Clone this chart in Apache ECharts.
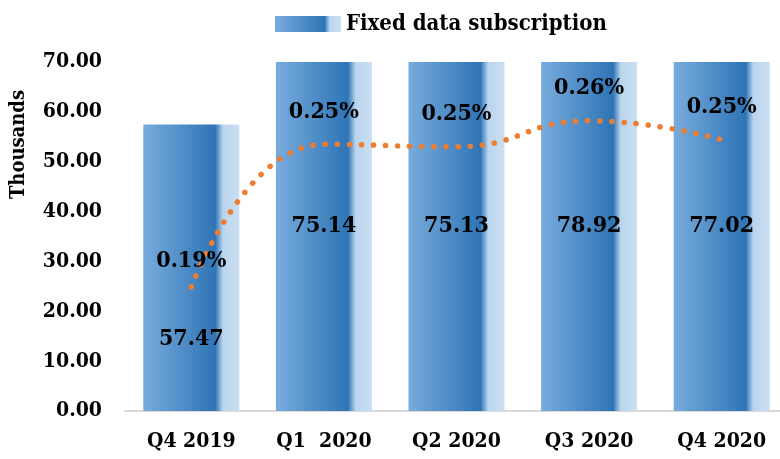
<!DOCTYPE html>
<html>
<head>
<meta charset="utf-8">
<script src="https://cdn.jsdelivr.net/npm/echarts@6/dist/echarts.min.js"></script>
<style>
  html, body { margin: 0; padding: 0; background: #fff; overflow: hidden; }
  #main { width: 788px; height: 459px; }
</style>
</head>
<body>
<div id="main"></div>
<script>
// data
var quarters = ['Q4 2019', 'Q1  2020', 'Q2 2020', 'Q3 2020', 'Q4 2020'];
var subscriptions = [57.47, 75.14, 75.13, 78.92, 77.02];   // thousands
var shares = [0.1898, 0.247, 0.246, 0.2564, 0.2488];         // percent
var yTicks = [0, 10, 20, 30, 40, 50, 60, 70];

var font = "'DejaVu Serif Condensed', 'DejaVu Serif', serif";

var barColor = new echarts.graphic.LinearGradient(0, 0, 1, 0, [
    { offset: 0, color: '#78acdd' },
    { offset: 0.75, color: '#2e74b5' },
    { offset: 0.83, color: '#bad5ee' },
    { offset: 1, color: '#cbdff2' }
]);

var option = {
    animation: false,
    textStyle: { fontFamily: font },
    legend: {
        top: 8,
        left: 270,
        icon: 'rect',
        itemWidth: 66,
        itemHeight: 16,
        itemGap: 8,
        data: ['Fixed data subscription'],
        textStyle: { fontSize: 22, fontWeight: 'bold', color: '#000', fontFamily: font }
    },
    grid: {
        left: 125,
        right: 0,
        top: 62,
        bottom: 48
    },
    xAxis: {
        type: 'category',
        data: quarters,
        axisTick: { show: false },
        axisLine: { lineStyle: { color: '#d9d9d9', width: 2 } },
        axisLabel: {
            margin: 20,
            fontSize: 21,
            fontWeight: 'bold',
            color: '#000',
            fontFamily: font
        }
    },
    yAxis: [
        {
            type: 'value',
            min: yTicks[0],
            max: yTicks[yTicks.length - 1],
            interval: 10,
            name: 'Thousands',
            nameLocation: 'middle',
            nameRotate: 90,
            nameGap: 96,
            nameTextStyle: { fontSize: 20, fontWeight: 'bold', color: '#000', fontFamily: font, padding: [0, 0, 0, 184] },
            axisLine: { show: false },
            axisTick: { show: false },
            splitLine: { show: false },
            axisLabel: {
                margin: 23,
                fontSize: 21,
                fontWeight: 'bold',
                color: '#000',
                fontFamily: font,
                formatter: function (v) { return v.toFixed(2); }
            }
        },
        {
            type: 'value',
            min: 0.14,
            max: 0.28,
            show: false
        }
    ],
    series: [
        {
            name: 'Fixed data subscription',
            type: 'bar',
            barWidth: 96,
            clip: true,
            itemStyle: { color: barColor },
            data: subscriptions.map(function (v, i) {
                return {
                    value: v,
                    label: i === 0
                        ? { position: ['50%', '75%'], align: 'center', verticalAlign: 'middle' }
                        : { position: 'inside', offset: [0, -10] }
                };
            }),
            label: {
                show: true,
                fontSize: 23,
                fontWeight: 'bold',
                color: '#000',
                fontFamily: font,
                formatter: function (p) { return p.value.toFixed(2); }
            },
            z: 2
        },
        {
            name: 'share',
            type: 'line',
            yAxisIndex: 1,
            smooth: true,
            symbol: 'circle',
            symbolSize: 2,
            showSymbol: true,
            itemStyle: { color: 'rgba(237,125,49,0)' },
            lineStyle: { color: '#ed7d31', width: 5.5, type: [0.1, 12], cap: 'round' },
            data: shares.map(function (v, i) {
                return {
                    value: v,
                    label: i === 0 ? { offset: [0, 7] } : {}
                };
            }),
            label: {
                show: true,
                position: 'top',
                distance: 20,
                fontSize: 23,
                fontWeight: 'bold',
                color: '#000',
                fontFamily: font,
                formatter: function (p) { return p.value.toFixed(2) + '%'; }
            },
            z: 3
        }
    ]
};

var chart = echarts.init(document.getElementById('main'));
chart.setOption(option);

window.addEventListener('resize', function () {
    chart.resize();
});
</script>
</body>
</html>
